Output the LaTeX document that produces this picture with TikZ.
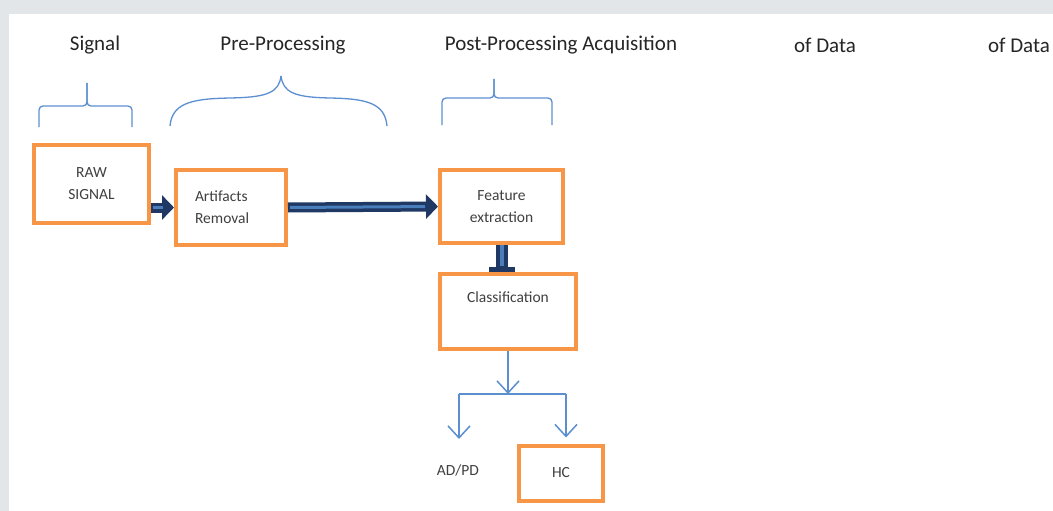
\documentclass[tikz,border=0pt]{standalone}
\usepackage{fontspec}
\setmainfont{Carlito}
\usepackage{tikz}
\usetikzlibrary{positioning,arrows.meta}
\definecolor{boxorange}{HTML}{F79646}
\definecolor{linkblue}{HTML}{5B8FD0}
\definecolor{navy}{HTML}{1F3864}
\definecolor{midblue}{HTML}{4A7EBB}
\definecolor{panelgray}{HTML}{E2E6E9}
\definecolor{textgray}{HTML}{404040}
\tikzstyle{block}=[rectangle, draw=boxorange, line width=4pt, fill=white, text=textgray,
        font=\fontsize{15.5}{22}\selectfont]
\tikzstyle{heading}=[font=\fontsize{21}{24}\selectfont, text=black!85]
\tikzstyle{bigarrow}=[draw=navy, line width=10pt, -{Triangle[length=12pt,width=24pt]}]
\tikzstyle{bigcore}=[draw=midblue, line width=3pt, shorten <=2pt, shorten >=13pt]
\tikzstyle{thinarrow}=[draw=linkblue, line width=1.5pt, -{Straight Barb[length=12pt,width=22pt]}]
\tikzstyle{bracket}=[draw=linkblue, line width=1.3pt, rounded corners=4pt]

\begin{document}
\begin{tikzpicture}[x=1pt, y=-1pt]

	\fill[panelgray] (0,0) rectangle (1053,511);
	\fill[white] (9,14) rectangle (1053,511);
	\useasboundingbox (0,0) rectangle (1053,511);

	% stage titles
	\node (hsignal) [heading] at (95,45) {Signal};
	\node (hpre) [heading] at (283,45) {Pre-Processing};
	\node (hpost) [heading] at (561,45) {Post-Processing Acquisition};
	\node (hdataA) [heading] at (825,45) {of Data};
	\node (hdataB) [heading] at (1019,45) {of Data};

	% brackets
	\draw[bracket] (39,127) |- (87,106) -- (87,83);
	\draw[bracket] (132,127) |- (87,106) -- (87,83);
	\draw[bracket] (170,126) .. controls (172,104) and (190,99) .. (230,98)
		.. controls (268,97) and (279,92) .. (281,76);
	\draw[bracket] (387,126) .. controls (385,104) and (368,99) .. (330,98)
		.. controls (294,97) and (283,92) .. (281,76);
	\draw[bracket] (442,125) |- (494,98) -- (494,79);
	\draw[bracket] (552,125) |- (494,98) -- (494,79);

	% boxes
	\node (rawsignal) [block, align=center, minimum width=115pt, minimum height=78pt] at (91.5,184)
		{RAW\\SIGNAL};
	\node (artifacts) [block, align=left, text width=72pt, minimum width=110pt, minimum height=75pt] at (231,207.5)
		{Artifacts\\Removal};
	\node (feature) [block, align=center, minimum width=123pt, minimum height=73pt] at (501.5,206.5)
		{Feature\\extraction};
	\node (classif) [block, text depth=28pt, minimum width=136pt, minimum height=75pt] at (508,311)
		{Classification};
	\node (hc) [block, minimum width=84pt, minimum height=55pt] at (561,473) {HC};
	\node (adpd) [text=textgray, font=\fontsize{15.5}{18}\selectfont] at (458,470) {AD/PD};

	% thick links
	\draw[bigarrow] (rawsignal.east |- artifacts.west) -- (artifacts.west);
	\draw[bigcore, shorten >=11pt] (rawsignal.east |- artifacts.west) -- (artifacts.west);
	\draw[bigarrow] (artifacts.east) -- (feature.west);
	\draw[bigcore] (artifacts.east) -- (feature.west);
	\draw[draw=navy, line width=12pt, -{Bar[width=26pt,line width=5pt]}] (feature.south) -- (feature.south |- classif.north);
	\draw[draw=midblue, line width=4pt, shorten >=6pt] (feature.south) -- (feature.south |- classif.north);

	% split to the two classes
	\coordinate (split) at (classif.south |- 0,394);
	\coordinate (leftend) at (459,394);
	\coordinate (rightend) at (566,394);
	\draw[thinarrow] (classif.south) -- (split);
	\draw[draw=linkblue, line width=1.5pt] (leftend) -- (rightend);
	\draw[thinarrow] (leftend) -- (leftend |- 0,439);
	\draw[thinarrow] (rightend) -- ([yshift=6pt]rightend |- hc.north);

\end{tikzpicture}
\end{document}
